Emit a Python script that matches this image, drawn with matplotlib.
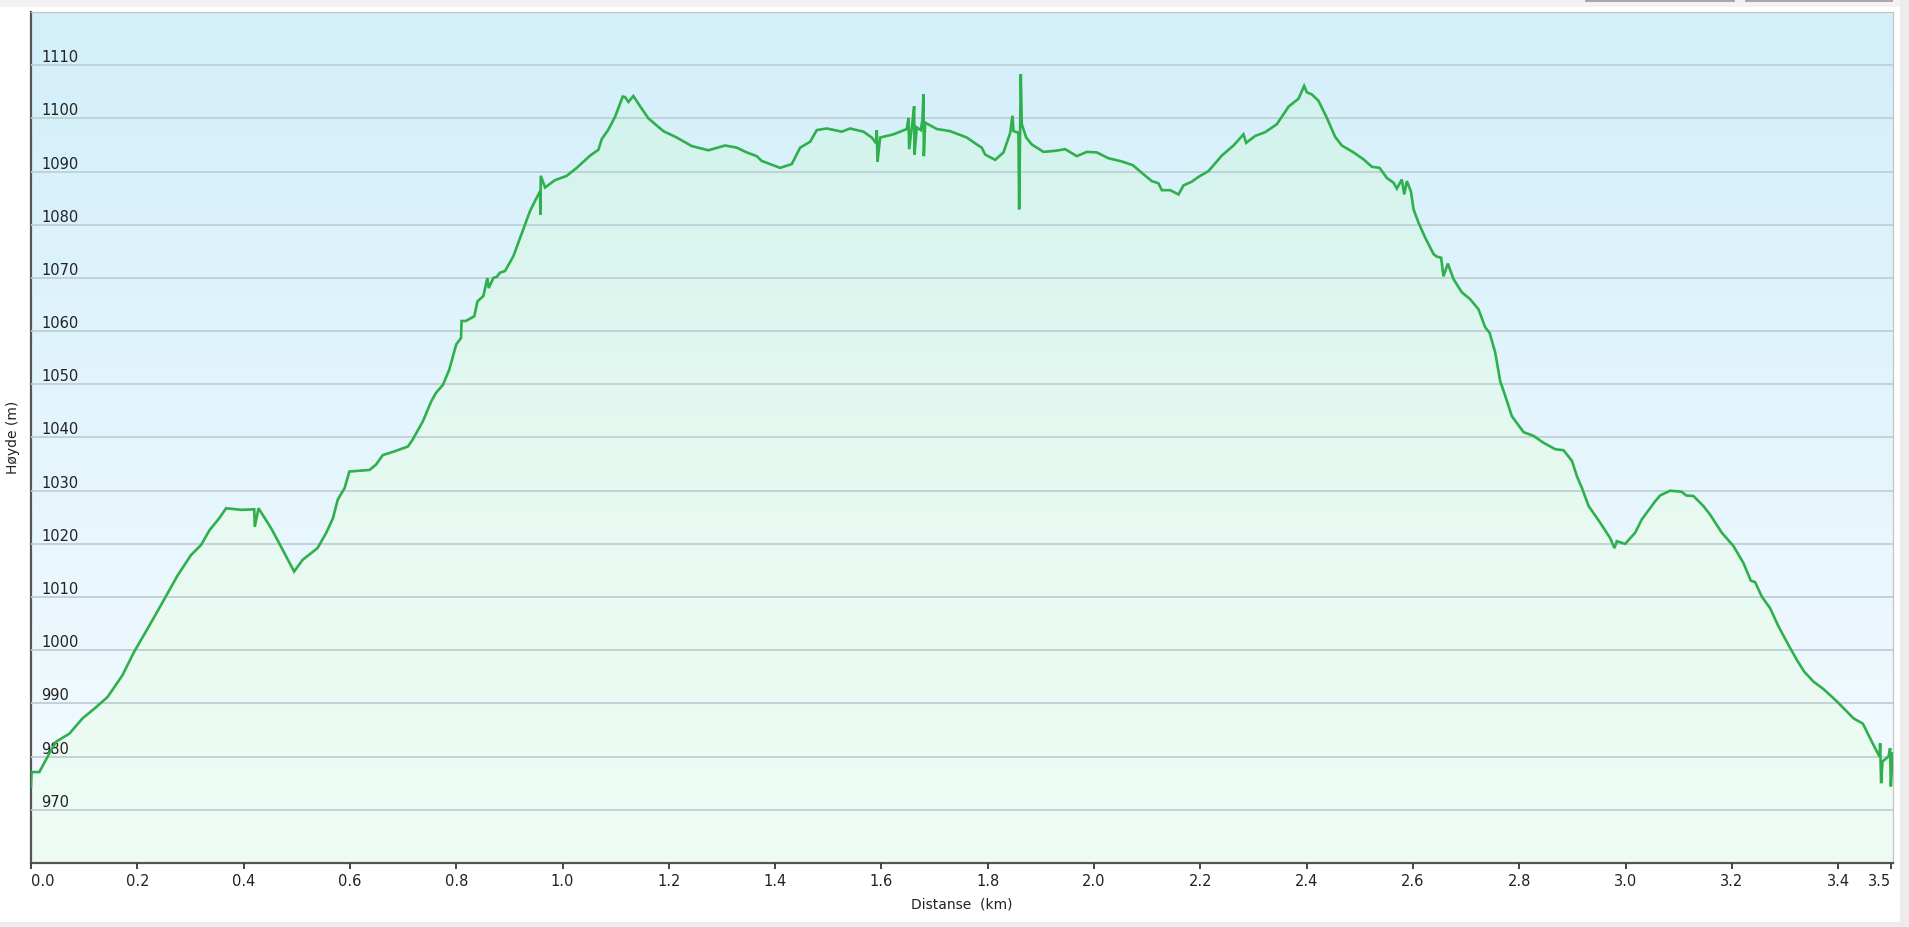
import numpy as np
import matplotlib
matplotlib.use("Agg")
import matplotlib.pyplot as plt
from matplotlib.colors import LinearSegmentedColormap
from matplotlib.patches import Rectangle

# elevation profile
distance_km = [
    0.0, 0.001, 0.0157, 0.0345, 0.047, 0.072, 0.097, 0.119, 0.144, 0.172,
    0.194, 0.223, 0.248, 0.276, 0.301, 0.320, 0.336, 0.354, 0.367, 0.395,
    0.420, 0.421, 0.428, 0.452, 0.467, 0.495, 0.511, 0.539, 0.555, 0.568,
    0.577, 0.590, 0.599, 0.637, 0.649, 0.662, 0.684, 0.709, 0.718, 0.737,
    0.753, 0.762, 0.775, 0.787, 0.800, 0.809, 0.810, 0.818, 0.834, 0.840,
    0.851, 0.8586, 0.8611, 0.8699, 0.8762, 0.8825, 0.8918, 0.9075, 0.9201, 0.9389,
    0.9483, 0.9577, 0.9583, 0.959, 0.9671, 0.986, 1.0079, 1.0267, 1.0518, 1.0675,
    1.0737, 1.0863, 1.0988, 1.1132, 1.1176, 1.1239, 1.1333, 1.1458, 1.1615, 1.1897,
    1.2148, 1.243, 1.2744, 1.3058, 1.3277, 1.3465, 1.3653, 1.3747, 1.4092, 1.4312,
    1.447, 1.4658, 1.4783, 1.4971, 1.5254, 1.541, 1.5661, 1.5818, 1.59, 1.5912,
    1.5925, 1.5975, 1.6226, 1.6477, 1.6508, 1.6521, 1.6571, 1.6615, 1.6621, 1.6665,
    1.674, 1.6771, 1.679, 1.6797, 1.6822, 1.7041, 1.7292, 1.7605, 1.7793, 1.7887,
    1.795, 1.8138, 1.8295, 1.842, 1.8465, 1.8483, 1.8577, 1.859, 1.8621, 1.864,
    1.8722, 1.8828, 1.9048, 1.9268, 1.9456, 1.9675, 1.9863, 2.0051, 2.0271, 2.0522,
    2.0729, 2.0929, 2.1086, 2.1211, 2.1274, 2.1431, 2.1588, 2.1682, 2.1839, 2.1964,
    2.2153, 2.2403, 2.2623, 2.2811, 2.2861, 2.3031, 2.3219, 2.3438, 2.3658, 2.3846,
    2.3952, 2.4003, 2.4097, 2.4222, 2.4379, 2.4536, 2.4661, 2.4881, 2.5069, 2.5226,
    2.537, 2.5508, 2.5634, 2.5696, 2.579, 2.5834, 2.5884, 2.596, 2.601, 2.6103,
    2.6228, 2.6385, 2.6448, 2.6529, 2.6573, 2.6655, 2.6761, 2.6918, 2.7075, 2.7232,
    2.7358, 2.744, 2.7546, 2.764, 2.7716, 2.786, 2.808, 2.8268, 2.8456, 2.8676,
    2.8833, 2.899, 2.9084, 2.9178, 2.9304, 2.952, 2.9708, 2.979, 2.9834, 2.9991,
    3.0179, 3.0304, 3.0555, 3.0649, 3.0837, 3.1056, 3.1138, 3.1276, 3.1464, 3.1589,
    3.1809, 3.2028, 3.2216, 3.2354, 3.2436, 3.2561, 3.2718, 3.2875, 3.3063, 3.322,
    3.3358, 3.3534, 3.3722, 3.3973, 3.4287, 3.4463, 3.4632, 3.4776, 3.4788, 3.4807,
    3.4832, 3.4945, 3.4976, 3.4989, 3.5025,
]
elevation_m = [
    974.3, 977.1, 977.1, 980.6, 982.8, 984.3, 987.2, 989.0, 991.2, 995.3,
    999.7, 1004.7, 1009.1, 1014.1, 1017.9, 1019.8, 1022.6, 1024.8, 1026.7, 1026.4,
    1026.5, 1023.2, 1026.7, 1022.9, 1020.1, 1014.8, 1017.0, 1019.2, 1022.0, 1024.8,
    1028.3, 1030.5, 1033.6, 1033.9, 1034.9, 1036.7, 1037.4, 1038.3, 1039.6, 1043.0,
    1046.8, 1048.4, 1049.9, 1052.8, 1057.5, 1058.7, 1061.9, 1061.9, 1062.8, 1065.6,
    1066.6, 1070.0, 1068.1, 1070.0, 1070.2, 1071.0, 1071.3, 1074.1, 1077.5, 1082.6,
    1084.5, 1086.3, 1081.9, 1089.2, 1087.0, 1088.4, 1089.2, 1090.7, 1093.0, 1094.1,
    1096.1, 1097.9, 1100.3, 1104.1, 1104.0, 1103.1, 1104.2, 1102.3, 1100.0, 1097.6,
    1096.4, 1094.8, 1094.0, 1094.9, 1094.5, 1093.6, 1092.9, 1092.0, 1090.7, 1091.4,
    1094.5, 1095.6, 1097.8, 1098.1, 1097.5, 1098.1, 1097.5, 1096.4, 1095.3, 1097.8,
    1091.8, 1096.4, 1097.0, 1098.0, 1100.1, 1094.2, 1098.3, 1102.3, 1093.2, 1098.3,
    1097.8, 1099.8, 1104.5, 1092.9, 1099.2, 1098.0, 1097.6, 1096.4, 1095.1, 1094.5,
    1093.2, 1092.2, 1093.6, 1097.2, 1100.5, 1097.6, 1097.3, 1082.9, 1108.3, 1098.9,
    1096.4, 1095.1, 1093.7, 1093.9, 1094.2, 1092.9, 1093.7, 1093.6, 1092.5, 1091.9,
    1091.2, 1089.5, 1088.2, 1087.8, 1086.5, 1086.5, 1085.7, 1087.4, 1088.1, 1089.0,
    1090.1, 1093.0, 1094.9, 1097.0, 1095.4, 1096.7, 1097.4, 1098.9, 1102.2, 1103.7,
    1106.1, 1104.9, 1104.5, 1103.3, 1100.1, 1096.5, 1094.9, 1093.6, 1092.3, 1090.9,
    1090.7, 1088.8, 1087.9, 1086.8, 1088.5, 1085.7, 1088.2, 1086.3, 1082.9, 1080.4,
    1077.6, 1074.5, 1074.0, 1073.8, 1070.3, 1072.7, 1069.8, 1067.3, 1066.0, 1064.1,
    1060.7, 1059.7, 1056.0, 1050.6, 1048.4, 1044.0, 1041.0, 1040.3, 1039.0, 1037.8,
    1037.6, 1035.6, 1032.7, 1030.5, 1027.1, 1024.0, 1021.1, 1019.2, 1020.5, 1020.0,
    1022.1, 1024.6, 1028.0, 1029.1, 1030.0, 1029.8, 1029.1, 1029.0, 1027.1, 1025.5,
    1022.1, 1019.6, 1016.4, 1013.1, 1012.8, 1010.1, 1007.9, 1004.5, 1001.0, 998.2,
    996.0, 994.1, 992.7, 990.4, 987.2, 986.2, 982.8, 980.0, 982.5, 975.0,
    979.1, 980.0, 981.6, 974.4, 980.6,
]

x_ticks = [0.0, 0.2, 0.4, 0.6, 0.8, 1.0, 1.2, 1.4, 1.6, 1.8, 2.0, 2.2, 2.4,
           2.6, 2.8, 3.0, 3.2, 3.4, 3.5]
y_ticks = list(range(970, 1111, 10))
x_max = 3.503
y_min, y_max = 960, 1120

x = np.array(distance_km)
y = np.array(elevation_m)

fig = plt.figure(figsize=(19.09, 9.27), dpi=100)
fig.patch.set_facecolor("white")

# web widget frame bits around the chart
fig.patches.append(Rectangle((0, 1 - 7 / 927), 1, 7 / 927, transform=fig.transFigure,
                             facecolor="#f2f2f2", edgecolor="none"))
fig.patches.append(Rectangle((0, 0), 1, 5 / 927, transform=fig.transFigure,
                             facecolor="#ececec", edgecolor="none"))
fig.patches.append(Rectangle((1 - 9 / 1909, 0), 9 / 1909, 1, transform=fig.transFigure,
                             facecolor="#ececec", edgecolor="none"))
for bx0, bx1 in [(1585, 1735), (1745, 1893)]:
    fig.patches.append(Rectangle((bx0 / 1909, 1 - 2 / 927), (bx1 - bx0) / 1909, 2 / 927,
                                 transform=fig.transFigure, facecolor="#a8a8a8",
                                 edgecolor="none"))

ax = fig.add_axes([31 / 1909, 1 - 863 / 927, (1893 - 31) / 1909, (863 - 12) / 927])

# background gradient
bg = LinearSegmentedColormap.from_list("bg", ["#f6fbff", "#d2effa"])
grad = np.linspace(0, 1, 256).reshape(-1, 1)
ax.imshow(grad, cmap=bg, aspect="auto", origin="lower",
          extent=[0, x_max, y_min, y_max], zorder=0)

# filled area under the profile, with its own gradient
fill = ax.fill_between(x, y, y_min, facecolor="none", edgecolor="none", zorder=1)
fg = LinearSegmentedColormap.from_list("fg", ["#eefcf4", "#e6f9f0", "#d0f2ed"])
img = ax.imshow(grad, cmap=fg, aspect="auto", origin="lower",
                extent=[0, x_max, y_min, 1110], zorder=1)
img.set_clip_path(fill.get_paths()[0], transform=ax.transData)

ax.plot(x, y, color="#2fb04c", lw=1.9, zorder=3, solid_joinstyle="miter")

ax.set_xlim(0, x_max)
ax.set_ylim(y_min, y_max)

ax.set_yticks(y_ticks)
ax.set_yticklabels([str(v) for v in y_ticks], fontsize=10.5, color="#222222",
                   ha="left", va="bottom")
ax.tick_params(axis="y", length=0, pad=-7.5)
ax.yaxis.grid(True, color="#bfcfd6", lw=1.3, zorder=2)
ax.set_axisbelow(False)

ax.set_xticks(x_ticks)
xlabels = ax.set_xticklabels([f"{v:.1f}" for v in x_ticks], fontsize=10.5, color="#222222")
xlabels[0].set_horizontalalignment("left")
xlabels[-1].set_horizontalalignment("right")
ax.tick_params(axis="x", direction="out", length=4, width=1.4, color="#444444", pad=4)

for side in ["top", "right"]:
    ax.spines[side].set_color("#c4c4c4")
    ax.spines[side].set_linewidth(0.9)
for side in ["left", "bottom"]:
    ax.spines[side].set_color("#555555")
    ax.spines[side].set_linewidth(1.6)

ax.set_xlabel("Distanse  (km)", fontsize=10, color="#222222", labelpad=6)
ax.set_ylabel("Høyde (m)", fontsize=10, color="#222222", labelpad=8)

fig.savefig("out.png", dpi=100)
